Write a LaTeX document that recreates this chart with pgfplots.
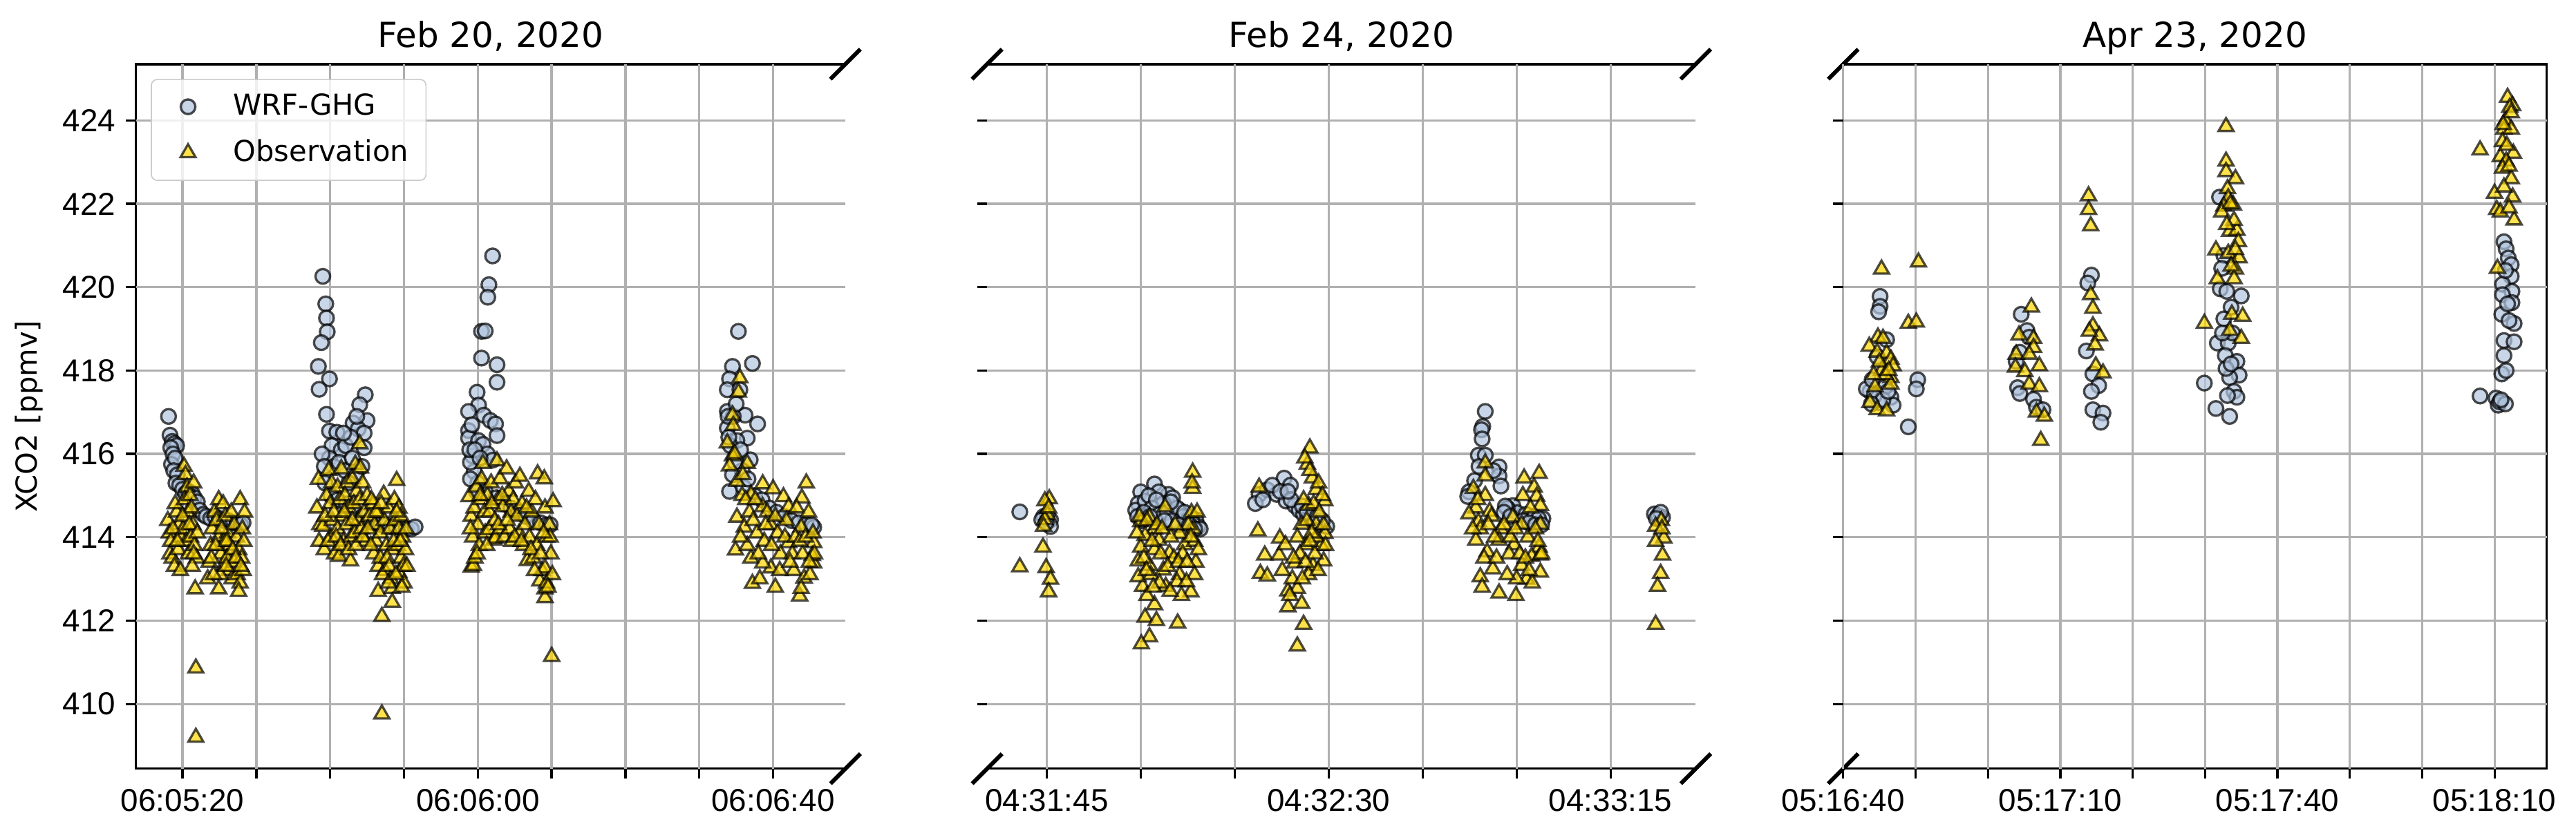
\documentclass[border=0pt]{standalone}
\usepackage{pgfplots}
\pgfplotsset{compat=1.18}
\usepackage{fontspec}
\setmainfont{Liberation Sans}
\newfontfamily\dejavu{DejaVu Sans}

\definecolor{wrfc}{HTML}{B0C4DE}
\definecolor{obsc}{HTML}{FFD700}
\definecolor{gridc}{HTML}{B0B0B0}
\definecolor{legedge}{HTML}{CCCCCC}

\tikzset{
  spine/.style={black, line width=0.8pt},
  brk/.style={black, line width=1.4pt},
}
\pgfplotsset{
  panel/.style={
    scale only axis, height=244.8pt, anchor=south west,
    ymin=408.45, ymax=425.35, ytick={410,412,...,424},
    grid=major, major grid style={draw=gridc, line width=0.8pt},
    axis line style={draw=none},
    tick pos=left, tick align=outside, major tick length=3.5pt,
    tick style={black, line width=0.8pt},
    clip=false, axis on top,
    /pgf/number format/assume math mode=true,
    ticklabel style={font=\fontsize{11}{13}\selectfont},
    title style={font=\dejavu\fontsize{12}{14}\selectfont, at={(0.5,1)}, anchor=base, yshift=-0.2pt},
  },
  wrfpts/.style={only marks, mark=*, mark size=2.55pt,
    mark options={draw=black, fill=wrfc, line width=0.8pt, opacity=0.7}},
  obspts/.style={only marks, mark=triangle*, mark size=3pt,
    mark options={draw=black, fill=obsc, line width=0.8pt, opacity=0.7}},
}

\begin{document}
\begin{tikzpicture}
\useasboundingbox (0,0) rectangle (894.6pt,288.7pt);

% ---------------- Feb 20, 2020 (seconds after 06:05:00) ----------------
\begin{axis}[panel, at={(47.2pt,21.6pt)}, width=246.4pt,
  xmin=13.68, xmax=109.8,
  xtick={20,30,...,100},
  xticklabels={06:05:20,,,,06:06:00,,,,06:06:40},
  title={Feb 20, 2020},
  ylabel={XCO2 [ppmv]},
  ylabel style={font=\dejavu\fontsize{10}{12}\selectfont},
  legend style={at={(0.021,0.979)}, anchor=north west, draw=legedge,
    rounded corners=2pt, fill=white, fill opacity=0.8, draw opacity=1, text opacity=1,
    inner xsep=4pt, inner ysep=3pt, row sep=3pt, column sep=5pt,
    nodes={inner sep=2pt}, font=\dejavu\fontsize{10}{12}\selectfont},
  legend cell align=left,
  legend image code/.code={\path (0cm,0cm) (0.6cm,0cm);
    \draw[mark repeat=2,mark phase=2,#1] plot coordinates {(0cm,0cm) (0.3cm,0cm) (0.6cm,0cm)};},
]
\addplot[wrfpts] coordinates {
(18.1,416.9) (18.3,416.45) (18.6,416.3) (18.9,416.25) (19.2,416.2) (18.4,416.15)
(18.7,416.0) (18.5,415.75) (19.0,415.9) (18.8,415.6) (19.3,415.5) (19.1,415.3)
(19.6,415.25) (20.0,415.15) (20.4,415.05) (20.8,415.1) (21.3,415.05) (21.6,414.95)
(22.0,414.85) (22.3,414.65) (22.8,414.55) (23.2,414.5) (23.8,414.45) (24.4,414.5)
(25.0,414.45) (25.6,414.4) (26.2,414.4) (26.8,414.35) (27.4,414.35) (27.9,414.3) (28.2,414.35)
(39.0,420.26) (39.4,419.6) (39.5,419.26) (39.6,418.93) (38.8,418.67) (38.4,418.1)
(39.9,417.8) (38.5,417.55) (39.5,416.95) (39.9,416.55) (40.9,416.52) (44.75,417.42)
(44.0,417.18) (45.0,416.8) (43.1,416.74) (43.8,416.6) (44.6,416.5) (40.25,416.2)
(41.5,416.1) (42.1,416.2) (42.8,416.4) (44.6,416.15) (39.9,415.9) (40.5,415.7)
(41.2,415.8) (42.0,415.6) (43.0,415.9) (43.5,415.5) (44.3,415.7) (39.3,415.3)
(40.1,415.0) (41.0,414.9) (42.2,414.8) (43.3,414.6) (44.4,414.5) (45.3,414.4)
(46.0,414.35) (46.8,414.3) (47.5,414.3) (48.2,414.25) (48.9,414.25) (49.6,414.25)
(50.3,414.2) (51.0,414.2) (51.5,414.25)
(38.9,416.0) (39.2,415.7) (41.8,416.5) (43.6,416.9) (42.5,415.3)
(62.0,420.75) (61.5,420.06) (61.35,419.76) (60.5,418.94) (61.0,418.95) (60.5,418.3)
(62.6,418.14) (62.6,417.72) (59.9,417.48) (60.1,417.17) (58.75,417.02) (60.8,416.93)
(61.7,416.8) (62.4,416.72) (62.6,416.44) (58.75,416.56) (58.75,416.38) (60.1,416.32)
(60.7,416.23) (59.3,415.95) (59.5,415.58) (61.3,416.0) (62.0,415.85) (60.0,415.3)
(61.0,415.1) (62.5,414.95) (63.5,414.8) (64.5,414.7) (65.5,414.6) (66.5,414.5)
(67.5,414.4) (68.5,414.35) (69.3,414.3) (69.8,414.3) (59.0,415.8) (58.9,416.1)
(59.2,416.7) (59.6,416.1) (60.3,415.9) (59.0,415.4) (59.8,415.1)
(95.3,418.94) (97.2,418.17) (94.5,418.1) (94.1,417.8) (93.8,417.54) (95.5,417.54)
(93.8,417.02) (96.2,416.93) (97.9,416.72) (93.8,416.62) (96.5,416.38) (95.1,416.32)
(94.6,416.9) (95.0,417.2) (94.2,416.2) (96.9,415.86) (95.8,415.6) (94.1,415.1)
(94.5,415.5) (96.0,415.2) (97.5,415.0) (98.5,414.9) (99.5,414.7) (100.5,414.6)
(101.5,414.5) (102.5,414.4) (103.5,414.35) (104.5,414.3) (105.5,414.24) (105.2,414.3)
(94.0,416.4) (94.8,415.8) (95.6,416.1) (93.9,416.9) (96.6,415.4)
};
\addlegendentry{WRF-GHG}
\addplot[obspts] coordinates {
(18.0,414.4) (18.2,414.1) (18.4,413.9) (18.3,413.6) (18.6,413.5) (18.9,413.3)
(19.2,414.6) (19.5,414.3) (19.8,414.0) (19.4,413.7) (19.0,414.8) (20.2,415.7)
(20.4,415.5) (20.6,415.2) (20.3,414.9) (20.7,414.6) (20.1,414.2) (20.5,413.9)
(20.8,413.6) (21.0,415.0) (21.2,414.7) (21.4,414.3) (21.1,414.0) (21.6,413.8)
(21.9,413.5) (21.3,413.3) (21.7,412.76) (21.8,410.86) (21.8,409.2) (19.7,413.2) (21.5,415.3)
(23.4,413.0) (23.6,413.4) (23.8,413.8) (24.0,414.2) (24.3,414.6) (24.9,414.9)
(25.5,414.8) (24.6,414.4) (24.9,414.0) (25.2,413.6) (25.5,413.3) (24.9,412.76)
(25.8,414.5) (26.1,414.1) (26.4,413.8) (26.0,413.5) (26.3,413.2) (26.7,413.0)
(27.0,414.3) (27.3,414.0) (27.6,413.7) (27.0,413.4) (27.4,413.1) (27.8,412.9)
(27.6,412.7) (27.8,414.9) (28.1,414.2) (28.3,413.9) (28.0,413.5) (28.2,413.2)
(25.1,413.1) (26.6,414.6) (24.2,413.1) (25.7,413.9)
(18.7,414.2) (19.3,413.9) (20.0,414.5) (20.9,414.3) (21.5,413.6) (22.0,414.1)
(23.9,413.5) (24.5,413.8) (25.3,414.2) (26.0,413.9) (26.8,413.7) (27.2,413.5)
(27.9,413.3) (28.4,414.6) (25.9,413.3)
(38.4,415.39) (38.2,414.7) (38.6,414.3) (39.0,414.26) (39.2,413.7) (38.5,413.9)
(39.5,415.0) (39.8,415.6) (40.2,415.3) (40.0,414.8) (40.3,414.4) (40.1,414.0)
(40.6,413.6) (41.2,413.54) (41.5,415.64) (41.0,415.2) (41.3,414.9) (41.6,414.5)
(41.0,414.2) (41.8,413.9) (42.3,415.3) (42.0,415.0) (42.5,414.7) (42.2,414.3)
(42.8,414.0) (42.75,413.43) (43.4,415.75) (43.0,415.4) (43.6,415.1) (43.2,414.8)
(43.8,414.4) (43.3,414.1) (44.0,416.24) (44.1,415.66) (44.4,415.3) (44.0,414.9)
(44.6,414.6) (44.2,414.2) (44.8,413.9) (45.0,415.0) (45.3,414.5)
(45.8,414.8) (46.0,414.3) (46.2,413.9) (45.9,413.6) (46.5,414.6) (46.8,414.1)
(46.5,413.3) (46.8,413.5) (46.5,412.7) (47.0,412.1) (47.0,409.76) (47.25,415.03)
(47.3,414.4) (47.6,413.8) (47.4,413.2) (47.9,414.7) (48.1,414.2) (48.4,413.7)
(48.2,413.0) (48.4,412.77) (48.4,412.44) (48.7,414.9) (48.8,414.4) (49.0,415.36)
(49.3,414.7) (49.3,414.2) (49.1,413.8) (49.3,413.15) (49.6,413.5) (49.8,414.0)
(49.9,413.3) (50.2,413.7) (50.0,412.9) (49.6,414.5) (47.1,413.1)
(39.3,414.5) (39.7,413.9) (40.5,414.6) (40.8,414.0) (41.4,413.8) (41.9,414.6)
(42.5,413.7) (43.0,414.4) (43.5,413.8) (44.4,414.0) (45.1,414.2) (45.5,413.8)
(45.6,414.9) (46.2,414.6) (46.9,414.8) (47.7,413.5) (48.0,413.3) (48.6,413.9)
(49.0,414.6) (49.5,413.9) (50.3,414.2) (50.4,413.3) (47.9,412.9) (49.7,412.8) (48.9,413.1)
(58.8,414.97) (59.1,414.5) (59.1,413.28) (59.4,413.32) (59.6,413.5) (59.3,414.0)
(59.5,414.7) (59.8,415.2) (60.2,413.8) (60.0,414.3) (60.4,414.9) (60.7,415.77)
(60.5,415.4) (60.9,414.6) (61.0,414.1) (61.3,415.0) (61.5,414.18) (61.6,414.6)
(61.8,415.3) (62.2,413.93) (62.4,413.98) (62.6,415.83) (62.3,414.4) (62.7,414.9)
(63.0,415.4) (63.4,414.73) (63.0,414.2) (63.6,414.0) (63.9,415.64) (64.2,415.1)
(64.5,414.6) (64.3,414.2) (64.8,414.9) (65.1,415.3) (65.7,415.46) (65.3,414.5)
(65.6,414.1) (66.0,414.8) (66.4,414.3) (66.7,413.44) (66.2,413.8) (66.9,415.1)
(67.3,414.6) (67.0,414.0) (67.5,413.5) (68.1,415.52) (67.8,414.9) (68.3,414.3)
(68.0,413.8) (68.4,412.95) (68.7,413.2) (69.0,415.4) (69.1,414.7) (69.3,414.0)
(69.1,413.26) (69.1,412.55) (69.1,412.76) (69.3,412.9) (70.0,411.14) (70.2,414.85)
(69.9,413.6) (69.7,414.3) (70.1,413.1)
(59.0,414.2) (59.9,413.6) (60.3,415.0) (61.2,413.8) (61.9,414.8) (62.8,414.3)
(63.3,415.0) (64.0,414.4) (64.6,413.9) (65.0,414.0) (65.9,413.9) (66.6,414.7)
(67.2,413.7) (67.7,413.2) (68.5,413.6) (69.5,412.8) (69.8,414.0) (68.9,414.1)
(95.5,417.82) (95.3,417.48) (94.5,416.93) (94.6,416.68) (93.8,416.26) (94.5,415.95)
(94.1,415.71) (96.5,415.77) (95.1,415.34) (97.0,415.03) (98.6,415.28) (100.0,415.16)
(104.5,415.3) (103.9,414.94) (101.4,414.97) (102.1,414.73) (98.6,414.73) (95.1,414.48)
(96.1,414.24) (99.7,414.3) (103.8,414.24) (105.5,413.87) (94.9,413.69) (97.0,413.5)
(99.7,413.26) (102.8,413.2) (104.2,413.02) (105.5,413.38) (97.2,412.89) (100.3,412.8)
(103.6,412.59) (103.8,412.77) (105.3,413.56) (98.6,413.38) (102.1,413.87)
(94.8,416.0) (95.8,415.0) (96.8,414.6) (97.8,414.1) (98.8,413.9) (99.2,414.6)
(100.6,414.1) (101.0,413.6) (101.8,414.4) (102.6,413.6) (103.2,414.7) (104.0,413.6)
(104.8,414.6) (105.0,413.1) (98.2,413.0) (96.5,413.8) (95.6,414.0) (105.6,413.6)
(95.9,415.5) (96.3,414.9) (97.3,414.4) (98.0,413.6) (99.0,414.3) (99.8,413.8)
(100.3,414.5) (100.9,413.2) (101.6,414.0) (102.3,413.4) (103.0,414.0) (103.6,413.9)
(104.4,414.0) (104.9,413.4) (105.4,414.1) (97.6,414.9)
};
\addlegendentry{Observation}
\draw[spine] (rel axis cs:1,1) -- (rel axis cs:0,1) -- (rel axis cs:0,0) -- (rel axis cs:1,0);
\draw[brk] ([shift={(-5.2pt,-5.2pt)}]rel axis cs:1,1) -- ([shift={(5.2pt,5.2pt)}]rel axis cs:1,1);
\draw[brk] ([shift={(-5.2pt,-5.2pt)}]rel axis cs:1,0) -- ([shift={(5.2pt,5.2pt)}]rel axis cs:1,0);
\end{axis}

% ---------------- Feb 24, 2020 (seconds after 04:31:00) ----------------
\begin{axis}[panel, at={(342.8pt,21.6pt)}, width=246.1pt,
  xmin=35.48, xmax=148.6,
  xtick={45,60,...,135},
  xticklabels={04:31:45,,,04:32:30,,,04:33:15},
  yticklabels={,,,,,,,},
  title={Feb 24, 2020},
]
\addplot[wrfpts] coordinates {
(40.7,414.61) (44.5,414.5) (45.6,414.42) (45.6,414.26) (45.1,414.54) (44.2,414.42) (44.9,414.35)
(60.0,415.09) (62.2,415.28) (64.4,415.03) (65.1,414.95) (66.2,414.65) (68.8,414.42)
(69.2,414.26) (59.6,414.81) (59.2,414.65) (60.7,414.87) (62.9,415.09) (63.6,414.81)
(61.3,415.0) (61.8,414.7) (59.5,414.5) (60.2,414.4) (63.0,414.55) (64.2,414.6)
(65.8,414.7) (66.8,414.5) (67.5,414.4) (68.2,414.35) (69.5,414.2) (67.0,414.6) (65.0,414.4)
(60.5,414.6) (61.5,414.5) (62.5,414.9) (63.8,414.4) (64.8,414.85) (66.0,414.3) (67.8,414.3) (68.6,414.2)
(78.9,415.03) (80.2,415.14) (82.9,415.42) (83.9,415.25) (81.7,415.03) (83.2,414.87)
(84.6,414.76) (85.3,414.65) (87.2,414.48) (88.6,414.31) (89.7,414.26) (78.3,414.81)
(79.5,414.9) (81.0,415.25) (82.3,415.1) (86.0,414.55) (89.0,414.4) (84.0,414.9)
(85.8,414.75) (87.8,414.4) (83.5,415.1) (86.5,414.6) (88.2,414.5)
(115.0,417.02) (114.6,416.66) (114.4,416.58) (114.5,416.36) (113.9,415.97) (115.0,415.97)
(117.2,415.69) (117.2,415.47) (117.5,415.23) (113.3,415.36) (112.4,415.09) (112.2,414.98)
(118.8,414.67) (124.2,414.45) (119.4,414.76) (120.1,414.59) (118.5,414.7) (116.3,415.6)
(114.0,415.7) (121.5,414.55) (122.8,414.5) (123.5,414.45) (118.2,414.75)
(118.0,414.6) (119.0,414.5) (121.0,414.4) (122.0,414.35) (123.0,414.3) (124.0,414.3)
(142.0,414.56) (143.3,414.48) (142.6,414.52) (143.0,414.6) (142.3,414.45)
};
\addplot[obspts] coordinates {
(45.4,414.92) (44.7,414.87) (45.1,414.54) (44.7,414.42) (44.4,413.76) (40.7,413.29)
(44.9,413.27) (45.6,412.99) (45.3,412.69) (44.5,414.26) (45.3,414.7)
(68.3,415.56) (68.3,415.17) (68.2,415.3) (63.9,414.73) (61.4,414.48) (62.2,414.2)
(68.1,414.59) (68.4,414.2) (60.0,413.76) (62.2,413.7) (64.6,413.62) (67.0,413.82)
(68.8,413.4) (59.6,413.43) (61.4,413.32) (63.6,413.21) (66.2,413.1) (68.6,413.1)
(68.0,412.69) (60.3,412.82) (62.2,412.38) (60.7,412.08) (61.4,411.61) (60.1,411.44)
(65.9,411.94) (59.6,413.05) (64.0,412.82) (65.8,412.93) (67.3,412.93) (60.7,414.04)
(62.9,413.93) (66.2,414.09) (60.0,414.37)
(59.8,414.5) (61.0,414.4) (62.6,414.3) (63.2,413.6) (64.8,414.0) (65.3,413.5)
(66.7,413.6) (67.6,414.3) (68.6,413.9) (69.0,414.6) (61.6,413.1) (63.0,412.9)
(66.5,412.6) (61.0,412.6) (62.5,412.0)
(59.4,414.1) (60.5,413.5) (61.8,413.9) (63.4,414.2) (64.3,413.3) (65.5,414.3)
(66.0,413.4) (67.4,413.4) (68.0,414.0) (69.2,413.7) (62.0,412.8) (64.7,412.7) (60.9,413.2)
(87.0,416.14) (86.6,415.75) (78.9,415.2) (87.4,415.42) (88.0,415.14) (89.4,414.87)
(78.7,414.15) (82.2,413.98) (79.8,413.57) (79.1,413.13) (80.2,413.07) (82.1,413.57)
(83.1,413.82) (84.6,413.38) (83.5,412.71) (85.0,412.77) (83.5,412.33) (85.7,412.41)
(86.0,411.91) (85.0,411.39) (87.5,413.32) (89.2,413.43) (89.4,414.09) (86.4,413.82)
(88.0,414.31) (85.7,414.31) (86.8,414.76)
(86.2,415.9) (87.0,415.6) (88.4,415.3) (89.0,415.0) (87.6,414.8) (86.5,414.4)
(88.8,413.8) (87.8,413.6) (86.8,413.1) (85.4,413.6) (84.2,413.0) (82.6,413.2)
(88.0,414.0) (89.2,414.3) (85.0,414.0)
(86.0,414.9) (87.3,414.1) (88.5,414.6) (86.3,413.4) (88.3,413.2) (84.4,413.5)
(89.5,413.8) (87.0,413.9) (85.8,413.0) (83.8,412.6)
(115.0,415.78) (115.0,415.47) (113.1,415.17) (115.0,415.0) (113.5,414.7) (115.7,414.62)
(112.4,414.56) (113.9,414.37) (114.2,414.2) (113.5,413.93) (117.5,414.2) (117.2,413.93)
(115.3,413.65) (116.2,413.24) (114.2,413.05) (117.2,412.66) (119.9,412.6) (121.2,415.42)
(123.6,415.53) (122.8,415.2) (123.2,414.98) (123.8,414.76) (119.4,414.48) (120.8,414.31)
(123.8,414.31) (123.6,413.76) (119.6,413.82) (122.4,413.54) (120.8,413.32) (123.8,413.16)
(121.6,412.99) (123.8,413.57)
(113.0,414.2) (114.8,413.5) (116.5,414.0) (118.8,413.6) (121.8,414.0) (122.2,414.7)
(120.0,413.0) (121.0,415.0) (119.0,414.0) (124.0,413.6) (122.5,412.9) (116.0,414.5)
(113.8,414.9) (115.5,414.3) (116.8,413.5) (118.0,414.3) (119.8,414.2) (120.5,413.6)
(121.4,413.5) (122.0,413.2) (123.0,414.2) (123.4,413.9) (118.5,413.1) (114.5,412.8)
(143.1,414.4) (142.2,414.26) (143.5,413.98) (142.2,413.9) (143.3,413.57) (143.0,413.13)
(142.5,412.82) (142.2,411.91) (143.2,414.2)
};
\draw[spine] (rel axis cs:0,1) -- (rel axis cs:1,1);
\draw[spine] (rel axis cs:0,0) -- (rel axis cs:1,0);
\draw[brk] ([shift={(-5.2pt,-5.2pt)}]rel axis cs:0,1) -- ([shift={(5.2pt,5.2pt)}]rel axis cs:0,1);
\draw[brk] ([shift={(-5.2pt,-5.2pt)}]rel axis cs:0,0) -- ([shift={(5.2pt,5.2pt)}]rel axis cs:0,0);
\draw[brk] ([shift={(-5.2pt,-5.2pt)}]rel axis cs:1,1) -- ([shift={(5.2pt,5.2pt)}]rel axis cs:1,1);
\draw[brk] ([shift={(-5.2pt,-5.2pt)}]rel axis cs:1,0) -- ([shift={(5.2pt,5.2pt)}]rel axis cs:1,0);
\end{axis}

% ---------------- Apr 23, 2020 (seconds after 05:16:00) ----------------
\begin{axis}[panel, at={(640.1pt,21.6pt)}, width=244.3pt,
  xmin=40, xmax=137.2,
  xtick={40,50,...,130},
  xticklabels={05:16:40,,,05:17:10,,,05:17:40,,,05:18:10},
  yticklabels={,,,,,,,},
  title={Apr 23, 2020},
]
\addplot[wrfpts] coordinates {
(45.1,419.78) (45.1,419.54) (44.9,419.41) (46.0,418.74) (43.7,417.5) (43.2,417.56)
(44.7,418.33) (46.6,417.36) (46.9,417.17) (45.0,417.23) (49.0,416.65) (50.3,417.78)
(50.1,417.56) (44.0,417.78) (45.8,417.61)
(44.3,417.4) (45.5,417.3) (46.2,417.5) (43.9,417.2)
(64.6,419.35) (65.4,418.96) (65.7,418.8) (64.4,418.44) (63.9,418.22) (64.1,417.59)
(64.4,417.45) (66.3,417.31) (66.7,417.12) (67.6,417.06) (74.3,420.29) (73.8,420.1)
(73.6,418.47) (74.5,417.92) (75.3,417.64) (74.3,417.5) (74.5,417.06) (75.9,416.98) (75.6,416.76)
(92.0,422.16) (92.6,420.76) (92.3,420.45) (92.1,419.96) (95.0,419.79) (93.6,419.52)
(92.6,419.24) (91.7,418.66) (93.2,418.66) (92.8,418.36) (94.4,418.22) (94.7,417.89)
(93.4,417.83) (89.9,417.7) (94.0,417.5) (94.4,417.36) (91.5,417.09) (93.4,416.9)
(92.9,418.05) (93.6,418.16) (93.0,419.9) (93.8,418.9) (92.4,418.9) (93.1,417.4)
(131.3,421.09) (131.6,420.92) (131.9,420.7) (132.3,420.54) (132.3,420.26) (131.1,420.07)
(132.4,419.9) (131.1,419.82) (132.4,419.63) (131.0,419.35) (132.7,419.13) (131.3,418.72)
(132.7,418.69) (131.3,418.36) (131.0,417.92) (128.0,417.39) (130.2,417.34) (130.5,417.17)
(130.7,417.25) (131.5,420.4) (131.8,419.6) (132.0,419.2) (131.6,418.0) (131.5,417.2) (130.9,417.3)
};
\addplot[obspts] coordinates {
(45.3,420.43) (50.4,420.6) (49.0,419.13) (50.1,419.16) (44.8,418.8) (45.5,418.77)
(43.6,418.58) (44.7,418.44) (46.0,418.41) (46.6,418.27) (46.9,418.11) (45.3,418.0)
(44.4,417.61) (46.6,417.83) (43.7,417.23) (44.7,417.06) (46.0,417.03) (46.6,417.67)
(45.0,418.2) (45.8,417.9) (44.2,417.9) (46.3,418.0)
(66.0,419.52) (64.3,418.85) (66.3,418.77) (66.3,418.55) (63.9,418.39) (65.7,418.39)
(67.1,418.11) (63.8,418.08) (65.1,417.97) (65.7,417.67) (67.1,417.61) (66.7,417.0)
(67.8,416.9) (67.3,416.32)
(73.9,422.19) (73.9,421.86) (74.2,421.47) (74.2,419.82) (74.5,419.49) (74.5,419.07)
(75.4,418.83) (74.8,418.61) (74.9,418.11) (75.9,417.94) (74.0,418.94)
(92.9,423.85) (92.9,423.02) (92.9,422.77) (94.2,422.6) (93.1,422.36) (93.2,422.14)
(92.6,421.94) (93.9,421.97) (92.3,421.8) (93.4,421.34) (94.4,421.36) (94.6,421.09)
(91.5,420.89) (93.2,420.81) (94.7,420.7) (94.2,420.43) (91.7,420.2) (94.0,420.2)
(89.9,419.13) (93.7,419.35) (95.2,419.3) (93.4,418.96) (95.0,418.77)
(93.5,422.0) (94.0,421.6) (93.0,421.5) (94.2,420.9) (93.6,420.5)
(131.8,424.55) (132.5,424.35) (131.5,424.0) (132.1,424.31) (132.3,424.18) (131.3,423.79)
(132.3,423.79) (131.1,423.49) (128.0,423.29) (130.8,423.13) (132.6,423.21) (131.6,423.02)
(131.1,422.85) (132.3,422.6) (130.0,422.25) (132.5,422.16) (130.3,421.86) (130.8,421.8)
(132.7,421.61) (130.4,420.45)
(131.7,423.4) (132.0,422.9) (131.3,422.4) (132.0,421.9) (131.2,423.9)
};
\draw[spine] (rel axis cs:0,1) -- (rel axis cs:1,1) -- (rel axis cs:1,0) -- (rel axis cs:0,0);
\draw[brk] ([shift={(-5.2pt,-5.2pt)}]rel axis cs:0,1) -- ([shift={(5.2pt,5.2pt)}]rel axis cs:0,1);
\draw[brk] ([shift={(-5.2pt,-5.2pt)}]rel axis cs:0,0) -- ([shift={(5.2pt,5.2pt)}]rel axis cs:0,0);
\end{axis}
\end{tikzpicture}
\end{document}
